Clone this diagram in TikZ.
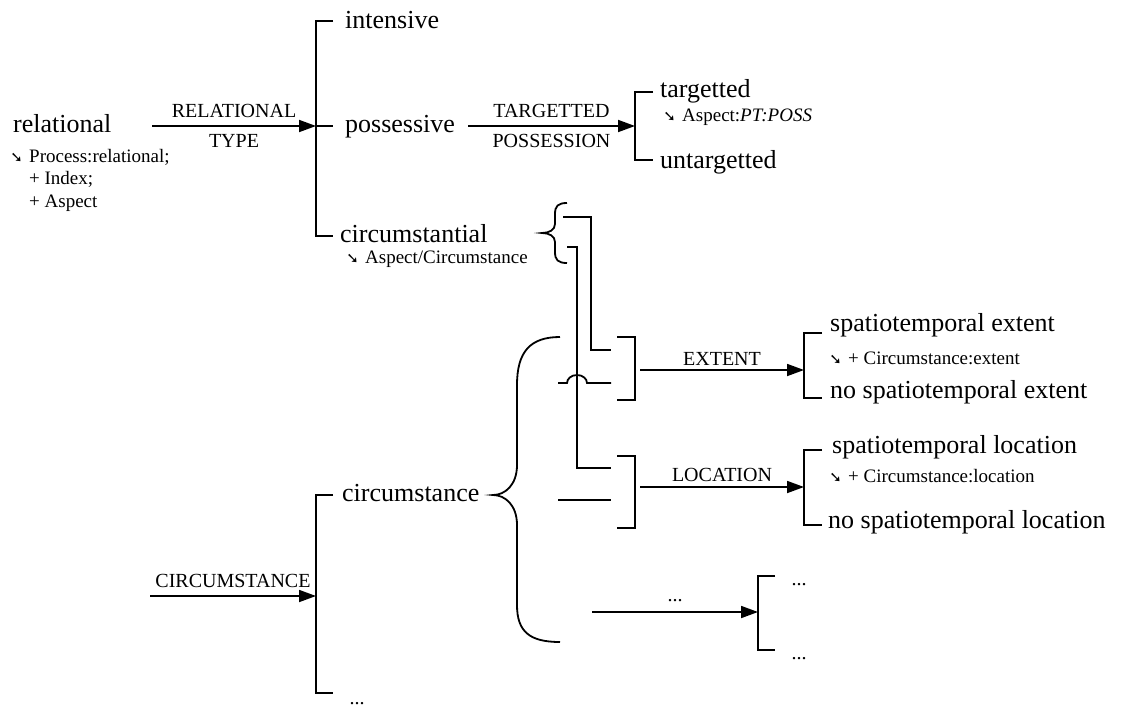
\documentclass[tikz,border=0pt]{standalone}
\usepackage{fontspec}
\setmainfont{Liberation Serif}
\newfontfamily\symfont{DejaVu Sans Bold}
\usetikzlibrary{arrows.meta}

\newcommand{\realarr}{{\symfont\fontsize{15}{15}\selectfont ➘}}

\tikzset{
  sysline/.style={line width=1.8pt},
  sysarrow/.style={line width=1.8pt, -{Triangle[length=17pt,width=12pt]}},
  term/.style={anchor=base west, inner sep=0pt, font=\fontsize{26}{30}\selectfont},
  realize/.style={anchor=base west, inner sep=0pt, align=left, font=\fontsize{19}{22.5}\selectfont},
  sysname/.style={inner sep=7pt, font=\fontsize{20}{24}\selectfont},
}

\begin{document}
\begin{tikzpicture}[x=1pt,y=-1pt]
\useasboundingbox (0,0) rectangle (1127,710);

% entry
\node[term] (rel) at (13,132) {relational};
\node[realize] (relsub) at (29,207) {\llap{\realarr\,\,}Process:relational;\\+ Index;\\+ Aspect};

% RELATIONAL TYPE
\coordinate (relout) at (152,126);
\coordinate (rtin) at (316,126);
\draw[sysarrow] (relout) -- (rtin)
  node[midway, above, sysname] (rtname) {RELATIONAL}
  node[midway, below, sysname] (rtname2) {TYPE};
\draw[sysline] (333,21) -- (316,21) -- (316,236) -- (333,236)
               (rtin) -- (333,126);
\node[term] (intens) at (345,28) {intensive};
\node[term] (poss) at (345,132) {possessive};
\node[term] (circal) at (340,242) {circumstantial};
\node[realize] (circalsub) at (365,263) {\llap{\realarr\,\,}Aspect/Circumstance};

% TARGETTED POSSESSION
\coordinate (possout) at (468,126);
\coordinate (tpin) at (635,126);
\draw[sysarrow] (possout) -- (tpin)
  node[midway, above, sysname] (tpname) {TARGETTED}
  node[midway, below, sysname] (tpname2) {POSSESSION};
\draw[sysline] (653,92) -- (635,92) -- (635,160) -- (653,160);
\node[term] (targ) at (660,97) {targetted};
\node[realize] (targsub) at (682,121) {\llap{\realarr\,\,}Aspect:\textit{PT:POSS}};
\node[term] (untarg) at (660,168) {untargetted};

% braces
\draw[sysline] (567,203) .. controls (558,203) and (555,206) .. (555,214) -- (555,224)
  .. controls (555,230) and (549,233) .. (542,233)
  .. controls (549,233) and (555,236) .. (555,242) -- (555,252)
  .. controls (555,260) and (558,263) .. (567,263);
\draw[sysline] (560,337) .. controls (530,337) and (517,352) .. (517,385) -- (517,465)
  .. controls (517,485) and (505,495) .. (493,495)
  .. controls (505,495) and (517,505) .. (517,525) -- (517,605)
  .. controls (517,632) and (530,642) .. (560,642);

% routes into the gates
\draw[sysline] (563,217) -- (591,217) -- (591,350) -- (611,350);
\draw[sysline] (567,247) -- (577,247) -- (577,468) -- (611,468);
\draw[sysline] (558,383) -- (567,383) arc[start angle=180, end angle=0, x radius=10pt, y radius=8pt] -- (611,383);
\draw[sysline] (558,500) -- (611,500);

% EXTENT
\draw[sysline] (617,337) -- (635,337) -- (635,400) -- (617,400);
\coordinate (extout) at (640,370);
\coordinate (extin) at (804,370);
\draw[sysarrow] (extout) -- (extin) node[midway, above, sysname, inner sep=4pt] (extname) {EXTENT};
\draw[sysline] (822,333) -- (804,333) -- (804,398) -- (822,398);
\node[term] (ext) at (830,331) {spatiotemporal extent};
\node[realize] (extsub) at (848,364) {\llap{\realarr\,\,}+ Circumstance:extent};
\node[term] (noext) at (830,398) {no spatiotemporal extent};

% LOCATION
\draw[sysline] (617,456) -- (635,456) -- (635,528) -- (617,528);
\coordinate (locout) at (640,487);
\coordinate (locin) at (804,487);
\draw[sysarrow] (locout) -- (locin) node[midway, above, sysname, inner sep=4pt] (locname) {LOCATION};
\draw[sysline] (822,450) -- (804,450) -- (804,525) -- (822,525);
\node[term] (loc) at (832,453) {spatiotemporal location};
\node[realize] (locsub) at (848,482) {\llap{\realarr\,\,}+ Circumstance:location};
\node[term] (noloc) at (828,528) {no spatiotemporal location};

% further systems
\coordinate (moreout) at (592,612);
\coordinate (morein) at (758,612);
\draw[sysarrow] (moreout) -- (morein) node[midway, above, sysname, inner sep=9pt] (morename) {...};
\draw[sysline] (775,576) -- (758,576) -- (758,650) -- (775,650);
\node[sysname, inner sep=0pt] (moreone) at (799,585) {...};
\node[sysname, inner sep=0pt] (moretwo) at (799,659) {...};

% CIRCUMSTANCE
\coordinate (cout) at (150,596);
\coordinate (cin) at (316,596);
\draw[sysarrow] (cout) -- (cin) node[midway, above, sysname] (cname) {CIRCUMSTANCE};
\draw[sysline] (333,495) -- (316,495) -- (316,693) -- (333,693);
\node[term] (circ) at (342,501) {circumstance};
\node[sysname, inner sep=0pt] (circdots) at (357,704) {...};
\end{tikzpicture}
\end{document}
